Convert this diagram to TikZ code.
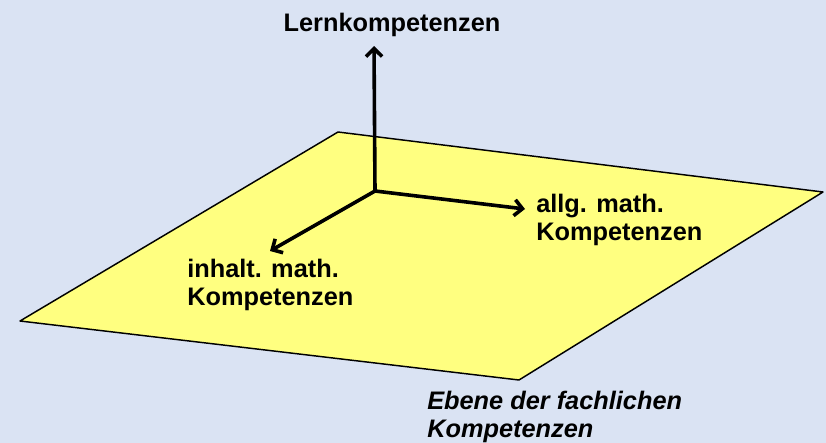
\documentclass[tikz,border=0pt]{standalone}
\usepackage{fontspec}
\setmainfont{Liberation Sans}
\usepackage{xcolor}
\usetikzlibrary{arrows.meta, positioning}
\definecolor{bgblue}{RGB}{218,227,243}
\definecolor{planeyellow}{RGB}{255,255,128}

\begin{document}
\begin{tikzpicture}[
    x=0.75pt, y=-0.75pt,
    label/.style={inner sep=0pt, align=left, font=\fontsize{19}{20.5}\selectfont\bfseries},
    plane/.style={draw=black, line width=1.1pt, fill=planeyellow, line join=round},
    axis/.style={-{Straight Barb[length=6pt, width=12pt]}, line width=2.7pt}
]

% Hintergrund
\fill[bgblue] (0,0) rectangle (826,443);
\useasboundingbox (0,0) rectangle (826,443);

% Ebene
\draw[plane] (338,132) -- (823,192) -- (519,380) -- (20,321) -- cycle;

% Achsen
\coordinate (origin) at (375,191);
\coordinate (lerntip) at (374,46);
\coordinate (allgtip) at (525,209);
\coordinate (inhalttip) at (270,251);

\draw[axis] (origin) -- (lerntip);
\draw[axis] (origin) -- (allgtip);
\draw[axis] (origin) -- (inhalttip);

% Beschriftungen
\node[label, anchor=base] (lern) at (392,31) {Lernkompetenzen};
\node[label, anchor=base west] (allg) at (536,240) {allg. math.\\Kompetenzen};
\node[label, anchor=base west] (inhalt) at (187,305) {inhalt. math.\\Kompetenzen};
\node[label, anchor=base west, font=\fontsize{19}{20.5}\selectfont\bfseries\itshape] (ebene) at (427,437) {Ebene der fachlichen\\Kompetenzen};

\end{tikzpicture}
\end{document}
